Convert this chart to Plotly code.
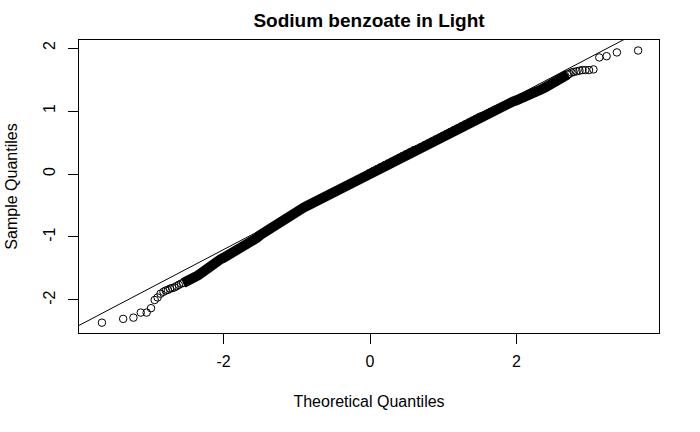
import plotly.graph_objects as go

# ---- data ----
# lower tail (individually visible circles)
tail_lo_theo = [-3.66, -3.37, -3.23, -3.13, -3.05, -2.99, -2.94, -2.90, -2.86, -2.82,
                -2.79, -2.76, -2.73, -2.70, -2.67, -2.64, -2.61, -2.58]
tail_lo_samp = [-2.36, -2.30, -2.28, -2.20, -2.20, -2.13, -2.00, -1.96, -1.90, -1.87,
                -1.85, -1.84, -1.82, -1.81, -1.80, -1.78, -1.76, -1.74]

# dense central band
band_theo = [-2.55, -2.50, -2.45, -2.40, -2.35, -2.30, -2.25, -2.20, -2.15, -2.10,
             -2.05, -2.00, -1.95, -1.90, -1.85, -1.80, -1.75, -1.70, -1.65, -1.60,
             -1.55, -1.50, -1.45, -1.40, -1.35, -1.30, -1.25, -1.20, -1.15, -1.10,
             -1.05, -1.00, -0.95, -0.90, -0.85, -0.80, -0.75, -0.70, -0.65, -0.60,
             -0.55, -0.50, -0.45, -0.40, -0.35, -0.30, -0.25, -0.20, -0.15, -0.10,
             -0.05, 0.00, 0.05, 0.10, 0.15, 0.20, 0.25, 0.30, 0.35, 0.40,
             0.45, 0.50, 0.55, 0.60, 0.65, 0.70, 0.75, 0.80, 0.85, 0.90,
             0.95, 1.00, 1.05, 1.10, 1.15, 1.20, 1.25, 1.30, 1.35, 1.40,
             1.45, 1.50, 1.55, 1.60, 1.65, 1.70, 1.75, 1.80, 1.85, 1.90,
             1.95, 2.00, 2.05, 2.10, 2.15, 2.20, 2.25, 2.30, 2.35, 2.40,
             2.45, 2.50, 2.55, 2.60, 2.65, 2.70]
band_samp = [-1.73, -1.71, -1.68, -1.65, -1.61, -1.57, -1.52, -1.48, -1.44, -1.40,
             -1.36, -1.33, -1.30, -1.27, -1.23, -1.20, -1.16, -1.13, -1.09, -1.06,
             -1.02, -0.97, -0.93, -0.89, -0.85, -0.82, -0.78, -0.74, -0.71, -0.67,
             -0.64, -0.60, -0.57, -0.53, -0.50, -0.47, -0.44, -0.41, -0.38, -0.35,
             -0.32, -0.29, -0.26, -0.23, -0.20, -0.17, -0.14, -0.11, -0.08, -0.05,
             -0.02, 0.02, 0.05, 0.08, 0.11, 0.14, 0.17, 0.20, 0.23, 0.26,
             0.29, 0.32, 0.35, 0.38, 0.40, 0.43, 0.46, 0.49, 0.52, 0.55,
             0.58, 0.61, 0.64, 0.67, 0.70, 0.73, 0.76, 0.79, 0.82, 0.85,
             0.88, 0.91, 0.93, 0.96, 0.99, 1.02, 1.04, 1.07, 1.09, 1.12,
             1.15, 1.17, 1.19, 1.21, 1.24, 1.27, 1.29, 1.32, 1.35, 1.38,
             1.41, 1.44, 1.47, 1.51, 1.55, 1.58]

# upper tail (individually visible circles)
tail_hi_theo = [2.72, 2.75, 2.78, 2.82, 2.86, 2.90, 2.94, 2.99, 3.05, 3.13, 3.23, 3.37, 3.66]
tail_hi_samp = [1.59, 1.61, 1.62, 1.63, 1.64, 1.65, 1.65, 1.65, 1.66, 1.85, 1.87, 1.93, 1.96]

# reference line (qqline)
line_intercept = 0.02
line_slope = 0.61

x_ticks = [-2, 0, 2]
y_ticks = [-2, -1, 0, 1, 2]

title_text = "Sodium benzoate in Light"
x_title = "Theoretical Quantiles"
y_title = "Sample Quantiles"

FONT = "Liberation Sans, Arial, Helvetica, sans-serif"

all_theo = tail_lo_theo + band_theo + tail_hi_theo
all_samp = tail_lo_samp + band_samp + tail_hi_samp

fig = go.Figure()

# dense band where thousands of circles overlap
fig.add_trace(go.Scatter(
    x=band_theo, y=band_samp, mode="lines",
    line=dict(color="black", width=10), hoverinfo="skip", showlegend=False))

fig.add_trace(go.Scatter(
    x=all_theo, y=all_samp, mode="markers",
    marker=dict(symbol="circle-open", size=7.5, color="black",
                line=dict(width=1, color="black")),
    showlegend=False))

line_x = [-5, 5]
line_y = [line_intercept + line_slope * v for v in line_x]
fig.add_trace(go.Scatter(
    x=line_x, y=line_y, mode="lines",
    line=dict(color="black", width=1), hoverinfo="skip", showlegend=False))

fig.update_layout(
    width=700, height=432,
    margin=dict(l=79, r=41, t=40, b=99),
    paper_bgcolor="white", plot_bgcolor="white",
    font=dict(family=FONT, size=16, color="black"),
    title=dict(text="<b>" + title_text + "</b>", x=0.5, xref="paper",
               y=1 - 20 / 432, yref="container", yanchor="middle", xanchor="center",
               font=dict(size=19, family=FONT, color="black")),
    xaxis=dict(range=[-3.973, 3.945], tickvals=x_ticks, ticktext=[str(v) for v in x_ticks],
               showgrid=False, zeroline=False, showline=True, linecolor="black", linewidth=1,
               mirror=True, ticks="outside", ticklen=10, tickcolor="black",
               tickfont=dict(size=16), ticklabelstandoff=4,
               title=dict(text=x_title, font=dict(size=16), standoff=26)),
    yaxis=dict(range=[-2.524, 2.127], tickvals=y_ticks, ticktext=[str(v) for v in y_ticks],
               showgrid=False, zeroline=False, showline=True, linecolor="black", linewidth=1,
               mirror=True, ticks="outside", ticklen=10, tickcolor="black",
               tickangle=-90, tickfont=dict(size=16), ticklabelstandoff=7,
               title=dict(text=y_title, font=dict(size=16), standoff=18)),
)

fig.write_html("out.html")
